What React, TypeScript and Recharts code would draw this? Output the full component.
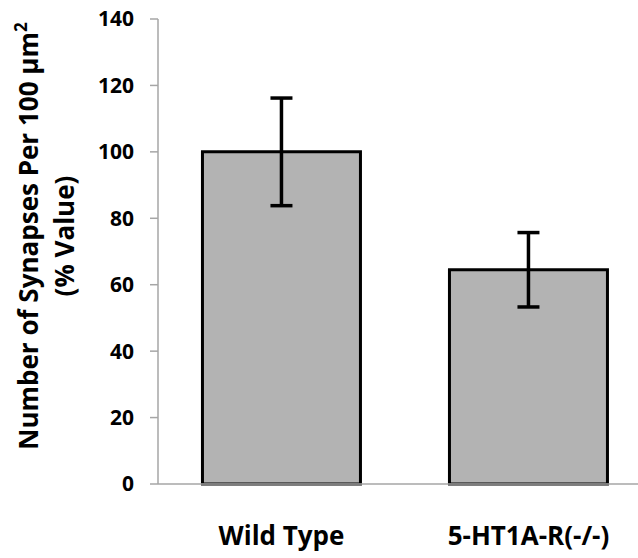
import { BarChart, Bar, XAxis, YAxis, ErrorBar, Label } from "recharts"

const groups = ["Wild Type", "5-HT1A-R(-/-)"]
const synapses = [100, 64.5]
const errors = [16.2, 11.2]
const yTicks = [0, 20, 40, 60, 80, 100, 120, 140]

const rows = groups.map((name, i) => ({ name, value: synapses[i], err: errors[i] }))

const font = "'Open Sans', sans-serif"

function AxisTitle() {
  return (
    <g fontFamily={font} fontWeight="bold" fontSize={26} fill="#000">
      <text x={38} y={236} textAnchor="middle" transform="rotate(-90, 38, 236)">
        Number of Synapses Per 100 µm<tspan dy={-11} fontSize={17}>2</tspan>
      </text>
      <text x={74} y={236} textAnchor="middle" transform="rotate(-90, 74, 236)">
        (% Value)
      </text>
    </g>
  )
}

function App() {
  return (
    <div style={{ position: "absolute", left: 0, top: 0, width: 638, height: 558, overflow: "hidden", background: "#fff" }}>
      <BarChart
        width={652}
        height={558}
        data={rows}
        margin={{ top: 19, right: 0, bottom: 0, left: 0 }}
        barCategoryGap="18%"
      >
        <YAxis
          width={158}
          domain={[0, 140]}
          ticks={yTicks}
          interval={0}
          axisLine={{ stroke: "#a6a6a6", strokeWidth: 1.5 }}
          tickLine={{ stroke: "#a6a6a6", strokeWidth: 1.5 }}
          tickSize={8}
          tickMargin={16}
          tick={{ fill: "#000", fontFamily: font, fontWeight: "bold", fontSize: 21 }}
        >
          <Label content={() => <AxisTitle />} />
        </YAxis>
        <XAxis
          dataKey="name"
          height={74}
          axisLine={{ stroke: "#a6a6a6", strokeWidth: 1.5 }}
          tickLine={false}
          tickSize={0}
          tickMargin={43}
          tick={{ fill: "#000", fontFamily: font, fontWeight: "bold", fontSize: 26 }}
        />
        <Bar dataKey="value" fill="#b3b3b3" stroke="#000" strokeWidth={3} isAnimationActive={false}>
          <ErrorBar dataKey="err" width={11} stroke="#000" strokeWidth={3.5} />
        </Bar>
      </BarChart>
    </div>
  )
}

export default App
